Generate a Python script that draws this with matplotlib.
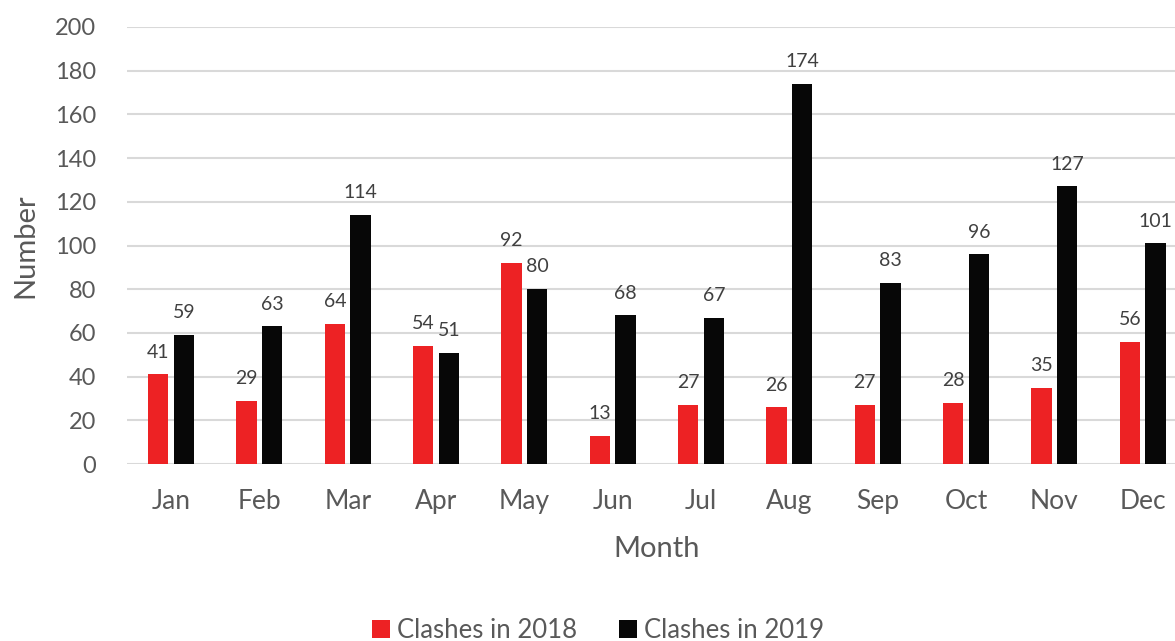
import numpy as np
import matplotlib.pyplot as plt

plt.rcParams['font.family'] = ['Lato', 'DejaVu Sans']

months = ['Jan', 'Feb', 'Mar', 'Apr', 'May', 'Jun', 'Jul', 'Aug', 'Sep', 'Oct', 'Nov', 'Dec']
clashes_2018 = [41, 29, 64, 54, 92, 13, 27, 26, 27, 28, 35, 56]
clashes_2019 = [59, 63, 114, 51, 80, 68, 67, 174, 83, 96, 127, 101]
y_ticks = list(range(0, 201, 20))

red = '#ED2224'
black = '#070707'
grey = '#595959'

fig = plt.figure(figsize=(11.75, 6.41), dpi=100)
ax = fig.add_axes([0.108, 0.276, 0.902, 0.682])

x = np.arange(len(months))
w = 0.23
off = 0.145
b1 = ax.bar(x - off, clashes_2018, w, color=red, label='Clashes in 2018', zorder=3)
b2 = ax.bar(x + off, clashes_2019, w, color=black, label='Clashes in 2019', zorder=3)

for bars, vals in ((b1, clashes_2018), (b2, clashes_2019)):
    for r, v in zip(bars, vals):
        ax.annotate(str(v), (r.get_x() + r.get_width() / 2, v), xytext=(0, 16),
                    textcoords='offset points', ha='center', va='center',
                    fontsize=14, color='#404040')

ax.set_xlim(-0.5, len(months) - 0.5)
ax.set_ylim(0, 200)
ax.set_yticks(y_ticks)
ax.set_xticks(x)
ax.set_xticklabels(months)
ax.tick_params(axis='both', length=0, colors=grey)
ax.tick_params(axis='y', labelsize=17, pad=22)
ax.tick_params(axis='x', labelsize=19, pad=18)
ax.grid(axis='y', color='#d9d9d9', linewidth=1.5, zorder=0)
for s in ax.spines.values():
    s.set_visible(False)

ax.set_xlabel('Month', fontsize=21, color=grey, labelpad=16)
ax.set_ylabel('Number', fontsize=21, color=grey, labelpad=12)

fig.legend(handles=[b1, b2], loc='center', bbox_to_anchor=(598 / 1175, 1 - 630 / 641),
           ncol=2, frameon=False, fontsize=18.5, labelcolor=grey,
           handlelength=0.7, handleheight=0.7, handletextpad=0.3, columnspacing=1.6)

fig.savefig('out.png', dpi=100)
